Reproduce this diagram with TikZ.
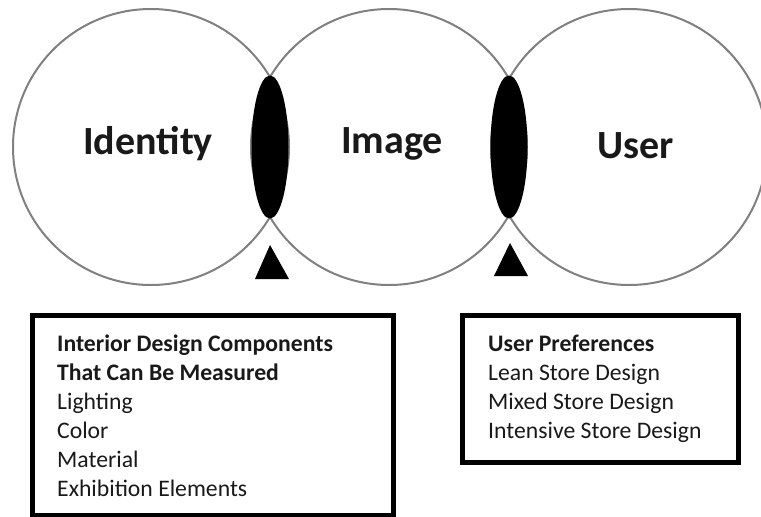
\documentclass[tikz,border=0pt]{standalone}
\usepackage{fontspec}
\setmainfont{Carlito}
\usetikzlibrary{shapes.geometric}
\tikzset{
  venn/.style={circle, draw=black!50, line width=2pt, minimum size=276pt, inner sep=0pt},
  lens/.style={ellipse, fill=black, draw=none, minimum width=37pt, minimum height=143pt, inner sep=0pt},
  title/.style={font=\bfseries\fontsize{40}{44}\selectfont, anchor=base, inner sep=0pt, text=black!90},
  panel/.style={draw=black, line width=5pt, anchor=north west, inner sep=0pt},
  paneltext/.style={font=\fontsize{23.7}{29}\selectfont, align=left, anchor=north west, inner sep=0pt, text=black!90},
}
\begin{document}
\begin{tikzpicture}[x=1pt,y=-1pt]
\useasboundingbox (0,0) rectangle (761,517);
\clip (0,0) rectangle (761,517);
\node[venn] (cid) at (151,147) {};
\node[venn] (cim) at (389,147) {};
\node[venn] (cus) at (629,147) {};
\node[lens] (lens1) at (270,147) {};
\node[lens] (lens2) at (509,147) {};
\fill[black] (270,245) -- (289,279) -- (255,279) -- cycle;
\fill[black] (510,243) -- (528,276) -- (494,276) -- cycle;
\node[title] (tid) at (148,154) {Identity};
\node[title] (tim) at (392,153) {Image};
\node[title] (tus) at (636,158) {User};
\node[panel, minimum width=361pt, minimum height=200pt] (box1) at (30,313) {};
\node[panel, minimum width=276pt, minimum height=147pt] (box2) at (460,313) {};
\node[paneltext] (t1) at (57,335) {\textbf{Interior Design Components}\\\textbf{That Can Be Measured}\\Lighting\\Color\\Material\\Exhibition Elements};
\node[paneltext] (t2) at (488,335) {\textbf{User Preferences}\\Lean Store Design\\Mixed Store Design\\Intensive Store Design};
\end{tikzpicture}
\end{document}
